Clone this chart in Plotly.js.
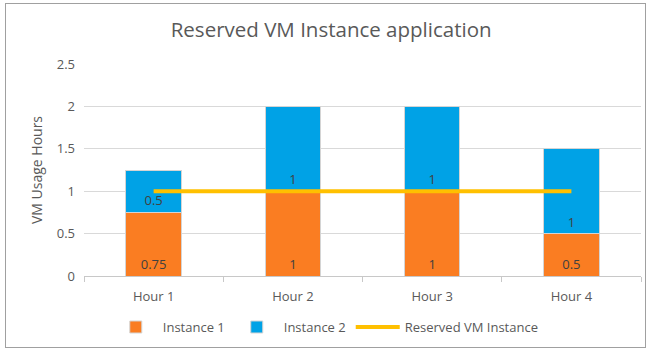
<!DOCTYPE html>
<html>
<head>
<meta charset="utf-8">
<script src="https://cdn.plot.ly/plotly-3.0.1.min.js"></script>
<style>
  html, body { margin: 0; padding: 0; background: #fff; }
  #wrap { position: relative; width: 657px; height: 354px; }
  #chart { width: 657px; height: 354px; }
  #frame { position: absolute; left: 5px; top: 3px; width: 641px; height: 345px;
           border: 1px solid #a0a0a0; box-sizing: border-box; pointer-events: none; }
</style>
</head>
<body>
<div id="wrap">
  <div id="chart"></div>
  <div id="frame"></div>
</div>
<script>
const categories = ['Hour 1', 'Hour 2', 'Hour 3', 'Hour 4'];
const instance1 = [0.75, 1, 1, 0.5];
const instance2 = [0.5, 1, 1, 1];
const reserved = [1, 1, 1, 1];

const FONT = 'Open Sans, Noto Sans, sans-serif';
const labelFont = { family: FONT, size: 13, color: '#404040' };

const traces = [
  {
    type: 'bar', name: 'Instance 1', x: categories, y: instance1,
    marker: { color: '#FA7D22', line: { color: '#d4d4d4', width: 1 } },
    text: instance1.map(String), textposition: 'inside', insidetextanchor: 'start',
    textfont: labelFont, textangle: 0, hoverinfo: 'x+y'
  },
  {
    type: 'bar', name: 'Instance 2', x: categories, y: instance2,
    marker: { color: '#00A2E6', line: { color: '#d4d4d4', width: 1 } },
    text: instance2.map(String), textposition: 'inside', insidetextanchor: 'start',
    textfont: labelFont, textangle: 0, hoverinfo: 'x+y'
  },
  {
    type: 'scatter', mode: 'lines', name: 'Reserved VM Instance', x: categories, y: reserved,
    line: { color: '#FFC000', width: 4 }
  }
];

const layout = {
  width: 657, height: 354,
  margin: { l: 84, r: 16, t: 64, b: 75 },
  paper_bgcolor: '#ffffff', plot_bgcolor: '#ffffff',
  barmode: 'stack', bargap: 0.6,
  font: { family: FONT, color: '#595959', size: 13 },
  title: {
    text: 'Reserved VM Instance application',
    font: { family: FONT, size: 20.5, color: '#595959' },
    x: 0.504, xref: 'container', xanchor: 'center',
    y: 0.915, yref: 'container', yanchor: 'middle'
  },
  xaxis: {
    type: 'category',
    showgrid: false,
    showline: true, linecolor: '#c8c8c8', linewidth: 1,
    ticks: 'outside', tickson: 'boundaries', ticklen: 5, tickcolor: '#c8c8c8',
    ticklabelstandoff: 8,
    tickfont: { family: FONT, size: 13, color: '#595959' }
  },
  yaxis: {
    range: [0, 2.5], dtick: 0.5, tick0: 0,
    showgrid: true, gridcolor: '#d9d9d9', gridwidth: 1,
    zeroline: false, showline: false, ticks: '',
    ticklabelstandoff: 8,
    tickfont: { family: FONT, size: 13, color: '#595959' },
    title: { text: 'VM Usage Hours', font: { family: FONT, size: 14, color: '#595959' }, standoff: 10 }
  },
  showlegend: true,
  legend: {
    orientation: 'h', x: 0.435, xanchor: 'center', y: -0.17, yanchor: 'top',
    font: { family: FONT, size: 13, color: '#595959' },
    itemwidth: 44,
    traceorder: 'normal'
  }
};

Plotly.newPlot('chart', traces, layout, { displayModeBar: false, staticPlot: true });
</script>
</body>
</html>
